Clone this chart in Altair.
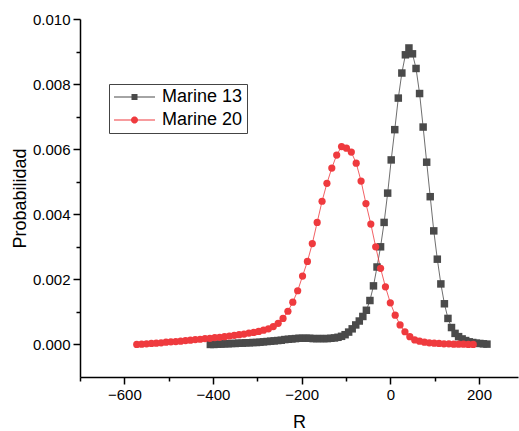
import math
import altair as alt
import pandas as pd

FONT = "Liberation Sans"

series_names = ["Marine 13", "Marine 20"]
series_colors = ["#4a4a4a", "#ef3a3e"]

m13_r = [-406, -398, -390, -382, -374, -366, -358, -350, -342, -334,
         -326, -318, -310, -302, -294, -286, -278, -270, -262, -254,
         -246, -238, -230, -222, -214, -206, -198, -190, -182, -174,
         -166, -158, -150, -142, -134, -126, -118, -110, -102, -94,
         -86, -78, -70, -62, -54, -46, -38, -30, -22, -14,
         -6, 2, 10, 18, 26, 34, 42, 50, 58, 66,
         74, 82, 90, 98, 106, 114, 122, 130, 138, 146,
         154, 162, 170, 178, 186, 194, 202, 210, 218]
m13_p = [0.00000, 0.00000, 0.00001, 0.00001, 0.00002, 0.00002, 0.00003, 0.00003, 0.00004, 0.00004,
         0.00005, 0.00005, 0.00006, 0.00006, 0.00007, 0.00008, 0.00009, 0.00010, 0.00011, 0.00012,
         0.00013, 0.00015, 0.00016, 0.00017, 0.00018, 0.00019, 0.00019, 0.00019, 0.00019, 0.00018,
         0.00018, 0.00018, 0.00018, 0.00018, 0.00019, 0.00020, 0.00022, 0.00025, 0.00030, 0.00038,
         0.00048, 0.00060, 0.00072, 0.00086, 0.00105, 0.00135, 0.00180, 0.00238, 0.00300, 0.00375,
         0.00465, 0.00567, 0.00660, 0.00757, 0.00834, 0.00890, 0.00911, 0.00893, 0.00848, 0.00771,
         0.00668, 0.00560, 0.00454, 0.00349, 0.00262, 0.00186, 0.00125, 0.00080, 0.00052, 0.00034,
         0.00024, 0.00017, 0.00012, 0.00008, 0.00006, 0.00004, 0.00003, 0.00002, 0.00001]

m20_r = [-572, -561, -550, -539, -528, -517, -506, -495, -484, -473,
         -462, -451, -440, -429, -418, -407, -396, -385, -374, -363,
         -352, -341, -330, -319, -308, -297, -286, -275, -264, -253,
         -242, -231, -220, -209, -198, -187, -176, -165, -154, -143,
         -132, -121, -110, -99, -88, -77, -66, -55, -44, -33,
         -22, -11, 0, 11, 22, 33, 44, 55, 66, 77,
         88, 99, 110, 121, 132, 143, 154, 165, 176, 187]
m20_p = [0.00000, 0.00001, 0.00002, 0.00003, 0.00004, 0.00005, 0.00007, 0.00008, 0.00009, 0.00010,
         0.00012, 0.00013, 0.00015, 0.00016, 0.00018, 0.00019, 0.00021, 0.00022, 0.00024, 0.00026,
         0.00028, 0.00030, 0.00032, 0.00035, 0.00037, 0.00040, 0.00044, 0.00048, 0.00055, 0.00065,
         0.00080, 0.00102, 0.00130, 0.00165, 0.00210, 0.00255, 0.00310, 0.00375, 0.00440, 0.00495,
         0.00542, 0.00582, 0.00608, 0.00603, 0.00591, 0.00557, 0.00502, 0.00433, 0.00370, 0.00300,
         0.00234, 0.00177, 0.00128, 0.00090, 0.00060, 0.00039, 0.00024, 0.00014, 0.00010, 0.00007,
         0.00005, 0.00004, 0.00003, 0.00002, 0.00002, 0.00001, 0.00001, 0.00001, 0.00000, 0.00000]

x_major_ticks = [-600, -400, -200, 0, 200]
x_minor_ticks = [-700, -500, -300, -100, 100]
y_major_ticks = [0.0, 0.002, 0.004, 0.006, 0.008, 0.010]
y_minor_ticks = [0.001, 0.003, 0.005, 0.007, 0.009]

df13 = pd.DataFrame({"R": m13_r, "P": m13_p, "Serie": series_names[0]})
df20 = pd.DataFrame({"R": m20_r, "P": m20_p, "Serie": series_names[1]})
df = pd.concat([df13, df20], ignore_index=True)

x_scale = alt.Scale(domain=[-700, 288], nice=False, zero=False)
y_scale = alt.Scale(domain=[-0.001, 0.010], nice=False, zero=False)
color_scale = alt.Scale(domain=series_names, range=series_colors)

# legend symbols: line segment + marker (unit = sqrt(size)/2)
line_rect = "M-1,-0.07L4.125,-0.07L4.125,0.07L-1,0.07Z"
sq = "M1.1875,-0.375L1.9375,-0.375L1.9375,0.375L1.1875,0.375Z"
pts = []
for i in range(24):
    a = 2 * math.pi * i / 24
    pts.append(f"{1.5625 + 0.4375 * math.cos(a):.4f},{0.4375 * math.sin(a):.4f}")
circ = "M" + "L".join(pts) + "Z"
shape_expr = f"datum.value === '{series_names[0]}' ? '{line_rect}{sq}' : '{line_rect}{circ}'"

legend = alt.Legend(
    title=None, orient="none", legendX=29, legendY=65,
    strokeColor="#444444", fillColor="white", padding=4,
    labelFont=FONT, labelFontSize=18, labelColor="black",
    symbolSize=256, labelOffset=31, rowPadding=5,
    symbolStrokeWidth=0, symbolOpacity=1,
    symbolType=alt.ExprRef(expr=shape_expr),
)

common_axis = dict(grid=False, domainColor="black", tickColor="black",
                   domainWidth=1.5, tickWidth=1.5)

x_major = alt.Axis(values=x_major_ticks, title="R", orient="bottom", tickSize=7,
                   labelFont=FONT, labelFontSize=15, labelColor="black", labelPadding=3,
                   labelFlush=False, titleFont=FONT, titleFontSize=18,
                   titleFontWeight="normal", titleColor="black", titlePadding=11,
                   **common_axis)
y_major = alt.Axis(values=y_major_ticks, format=".3f", title="Probabilidad", orient="left",
                   tickSize=7, labelFont=FONT, labelFontSize=15, labelColor="black",
                   labelPadding=3, labelFlush=False, titleFont=FONT, titleFontSize=18,
                   titleFontWeight="normal", titleColor="black", titlePadding=3,
                   **common_axis)
x_minor = alt.Axis(values=x_minor_ticks, title=None, orient="bottom", tickSize=4,
                   labels=False, domain=False, grid=False, tickColor="black", tickWidth=1.5)
y_minor = alt.Axis(values=y_minor_ticks, title=None, orient="left", tickSize=4,
                   labels=False, domain=False, grid=False, tickColor="black", tickWidth=1.5)

lines = alt.Chart(df).mark_line(strokeWidth=1, opacity=0.8).encode(
    x=alt.X("R:Q", scale=x_scale, axis=x_major),
    y=alt.Y("P:Q", scale=y_scale, axis=y_major),
    color=alt.Color("Serie:N", scale=color_scale, legend=legend),
    detail="Serie:N",
    order="R:Q",
)

squares = alt.Chart(df13).mark_square(size=56, opacity=1).encode(
    x=alt.X("R:Q", scale=x_scale, axis=x_minor),
    y=alt.Y("P:Q", scale=y_scale, axis=y_minor),
    color=alt.Color("Serie:N", scale=color_scale, legend=legend),
)

circles = alt.Chart(df20).mark_circle(size=52, opacity=1).encode(
    x=alt.X("R:Q", scale=x_scale, axis=None),
    y=alt.Y("P:Q", scale=y_scale, axis=None),
    color=alt.Color("Serie:N", scale=color_scale, legend=legend),
)

chart = alt.layer(lines, squares, circles).resolve_axis(
    x="independent", y="independent"
).properties(
    width=438, height=358,
    autosize=alt.AutoSizeParams(type="none"),
    padding={"left": 80, "top": 19, "right": 1, "bottom": 54},
    background="white",
).configure_view(stroke=None)

chart.save("out.html", embed_options={"renderer": "svg", "actions": False})
